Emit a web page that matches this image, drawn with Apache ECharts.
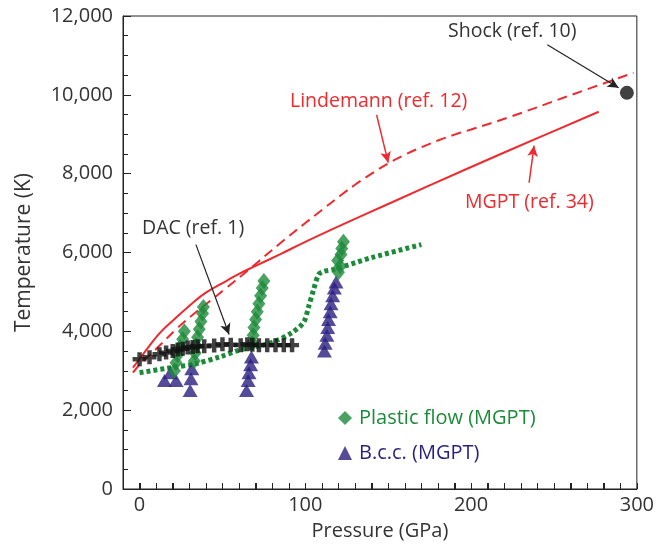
<!DOCTYPE html>
<html><head><meta charset="utf-8">
<script src="https://cdn.jsdelivr.net/npm/echarts@6/dist/echarts.min.js"></script>
<style>html,body{margin:0;padding:0;background:#fff}#c{width:657px;height:546px}</style>
</head><body><div id="c"></div>
<script>
// Data: [pressure GPa, temperature K]
const mgptCurve = [[-4,3080],[0,3300],[5,3580],[12,3950],[20,4270],[32,4720],[40,4980],[52,5270],[60,5460],[70,5660],[85,5960],[100,6270],[122,6700],[150,7230],[200,8170],[240,8900],[277,9570]];
const lindemannCurve = [[-4,2950],[0,3150],[10,3550],[22,4050],[33,4450],[44,4820],[52,5090],[62,5430],[72,5780],[85,6240],[100,6750],[110,7080],[122,7470],[130,7720],[140,8000],[150,8260],[160,8480],[170,8670],[180,8840],[190,8990],[200,9120],[222,9420],[260,9990],[298,10560]];
const plasticBoundary = [[0,2950],[19,3080],[33,3170],[49,3360],[60,3520],[80,3720],[92,3970],[99,4230],[102,4630],[105,5060],[108,5440],[111,5520],[117,5570],[140,5870],[170,6200]];
const plasticFlow = [[21,3000],[22,3200],[23,3400],[24.5,3600],[26,3800],[27,4000],
  [33,3250],[33.5,3450],[34,3650],[35,3850],[36,4050],[37,4250],[38,4450],[38.5,4620],
  [68,3700],[68.5,3900],[69,4100],[70,4300],[71,4500],[72,4700],[73,4900],[74,5100],[75,5280],
  [120,5500],[121,5650],[119.5,5800],[121.5,5950],[122,6100],[123,6270]];
const bcc = [[15,2750],[22,2750],[18.5,2950],
  [31.5,3050],[31,2800],[30.5,2500],
  [67.5,3350],[67,3150],[66,2950],[65.5,2750],[64.5,2500],
  [111.5,3500],[112,3700],[113,3900],[113.5,4100],[114,4300],[115,4500],[115.5,4700],[116.5,4900],[117.5,5100],[118.5,5250]];
const dac = [[0,3290],[6,3340],[12,3420],[16,3460],[20,3500],[23,3540],[26,3560],[29,3590],[32,3600],[35,3620],[39,3620],[45,3640],[50,3670],[55,3660],[61,3650],[65,3670],[68,3660],[72,3650],[77,3650],[82,3650],[87,3650],[92,3650]];
const shock = [[294,10050]];
// annotation arrows: [from, to]
const arrowShock = [[246,11270],[289,10180]];
const arrowLindemann = [[143,9490],[150,8280]];
const arrowMgpt = [[235,7770],[238,8710]];
const arrowDac = [[34,6200],[54,3920]];
const xTickLabels = [0,100,200,300];
const xTickMarks = [-10,0,10,20,30,40,50,60,70,80,90,100,110,120,130,140,150,160,170,180,190,200,210,220,230,240,250,260,270,280,290,300];
const yTickLabels = [0,2000,4000,6000,8000,10000,12000];

const RED='#ee2a2e', GREEN='#1d8a3a', NAVY='#2a1f80', BLACK='#111', TXT='#333';
const FONT='"Open Sans", sans-serif';
const crossPath='path://M3.4,0H6.6V3.4H10V6.6H6.6V10H3.4V6.6H0V3.4H3.4Z';

function arrowLine(a,color,w){
  return {type:'line',data:[],silent:true,markLine:{silent:true,symbol:['none','arrow'],symbolSize:[8,11],label:{show:false},
    lineStyle:{color:color,width:w,type:'solid'},data:[[{coord:a[0]},{coord:a[1]}]]}};
}

const textGraphics = [
  {type:'text',left:448,top:21,style:{text:'Shock (ref. 10)',font:'19.5px '+FONT,fill:TXT}},
  {type:'text',left:290,top:91,style:{text:'Lindemann (ref. 12)',font:'19.5px '+FONT,fill:RED}},
  {type:'text',left:465,top:192,style:{text:'MGPT (ref. 34)',font:'19.5px '+FONT,fill:RED}},
  {type:'text',left:142,top:218,style:{text:'DAC (ref. 1)',font:'19.5px '+FONT,fill:TXT}}
];

const chart = echarts.init(document.getElementById('c'),null,{renderer:'canvas'});
chart.setOption({
  animation:false,
  grid:{left:123,right:20,top:16,bottom:56,show:true,borderColor:'#222',borderWidth:1},
  xAxis:{type:'value',min:-10,max:300,
    name:'Pressure (GPa)',nameLocation:'middle',nameGap:32,nameTextStyle:{fontFamily:FONT,fontSize:20,color:TXT},
    axisLine:{show:true,onZero:false,lineStyle:{color:'#222',width:1}},
    axisTick:{show:true,inside:true,length:6,customValues:xTickMarks,lineStyle:{color:'#222',width:1}},
    axisLabel:{show:true,margin:6,fontFamily:FONT,fontSize:20,color:TXT,customValues:xTickLabels,showMinLabel:true,showMaxLabel:true},
    splitLine:{show:false}},
  yAxis:{type:'value',min:0,max:12000,interval:2000,
    name:'Temperature (K)',nameLocation:'middle',nameGap:88,nameTextStyle:{fontFamily:FONT,fontSize:21,color:TXT},
    axisLine:{show:true,onZero:false,lineStyle:{color:'#222',width:1}},
    axisTick:{show:true,inside:true,length:8,lineStyle:{color:'#222'}},
    minorTick:{show:true,splitNumber:4,length:5,lineStyle:{color:'#222'}},
    axisLabel:{margin:10,fontFamily:FONT,fontSize:20,color:TXT,formatter:v=>yTickLabels.includes(v)?v.toLocaleString('en-US'):''},
    splitLine:{show:false}},
  legend:{orient:'vertical',left:333,top:403,itemWidth:14,itemHeight:14,itemGap:15,
    textStyle:{fontFamily:FONT,fontSize:20,padding:[0,0,0,2]},
    data:[{name:'Plastic flow (MGPT)',icon:'diamond',textStyle:{color:GREEN}},{name:'B.c.c. (MGPT)',icon:'triangle',textStyle:{color:NAVY}}]},
  graphic:textGraphics,
  series:[
    {name:'plastic boundary',type:'line',data:plasticBoundary,smooth:0.3,symbol:'none',lineStyle:{color:GREEN,width:5,type:[4,3],cap:'butt'},z:2},
    {name:'Lindemann',type:'line',data:lindemannCurve,smooth:0.4,symbol:'none',lineStyle:{color:RED,width:2,type:[10,6]},z:2},
    {name:'MGPT',type:'line',data:mgptCurve,smooth:0.4,symbol:'none',lineStyle:{color:RED,width:2},z:2},
    {name:'B.c.c. (MGPT)',type:'scatter',data:bcc,symbol:'triangle',symbolSize:[15,13],itemStyle:{color:NAVY},z:3},
    {name:'Plastic flow (MGPT)',type:'scatter',data:plasticFlow,symbol:'diamond',symbolSize:[13,16],itemStyle:{color:GREEN},z:4},
    {name:'DAC',type:'scatter',data:dac,symbol:crossPath,symbolSize:14,itemStyle:{color:BLACK},z:5},
    {name:'Shock',type:'scatter',data:shock,symbol:'circle',symbolSize:14,itemStyle:{color:BLACK},z:5},
    arrowLine(arrowShock,'#222',1.2),
    arrowLine(arrowLindemann,RED,1.5),
    arrowLine(arrowMgpt,RED,1.5),
    arrowLine(arrowDac,'#222',1.2)
  ]
});

// Inside tick marks on the pressure axis, positioned through the axis scale
try {
  const tickLines = xTickMarks.map(v => {
    const p = chart.convertToPixel({gridIndex:0}, [v, 0]);
    const x = Math.round(p[0]) + 0.5, y = Math.round(p[1]);
    return {type:'line', silent:true, z:10, shape:{x1:x, y1:y, x2:x, y2:y-6}, style:{stroke:'#222', lineWidth:1}};
  });
  chart.setOption({graphic: textGraphics.concat(tickLines)});
} catch (e) { console.error(e); }
</script></body></html>
